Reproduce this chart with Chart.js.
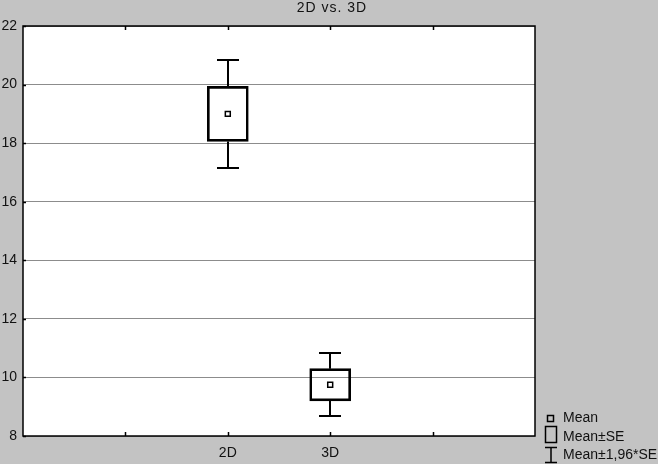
<!DOCTYPE html>
<html>
<head>
<meta charset="utf-8">
<script src="https://cdn.jsdelivr.net/npm/chart.js@4.4.0/dist/chart.umd.min.js"></script>
<style>
  html, body { margin: 0; padding: 0; background: #c3c3c3; }
  #wrap { width: 658px; height: 464px; }
</style>
</head>
<body>
<div id="wrap"><canvas id="boxChart" width="658" height="464"></canvas></div>
<script>
const categories = ["2D", "3D"];
const positions = [2, 3];
const means = [19.0, 9.75];
const se = [0.94, 0.55];
const ci = [1.84, 1.08]; // 1,96*SE
const xTicks = [1, 2, 3, 4];
const yTicks = [8, 10, 12, 14, 16, 18, 20, 22];
const titleText = "2D vs. 3D";

const fontFamily = "Arial, 'Liberation Sans', sans-serif";

// white plot area, whiskers, frame, inner tick marks, title, legend
const extras = {
  id: "extras",
  beforeDraw(chart) {
    const { ctx, chartArea: a } = chart;
    ctx.save();
    ctx.fillStyle = "#fff";
    ctx.fillRect(a.left, a.top, a.right - a.left, a.bottom - a.top);
    ctx.restore();
  },
  afterDatasetsDraw(chart) {
    const { ctx, scales: { x, y } } = chart;
    ctx.save();
    ctx.strokeStyle = "#000";
    ctx.lineWidth = 2;
    positions.forEach((p, i) => {
      const px = Math.round(x.getPixelForValue(p));
      const ends = [
        [means[i] + se[i], means[i] + ci[i]],
        [means[i] - se[i], means[i] - ci[i]],
      ];
      ends.forEach(([a, b]) => {
        const ya = y.getPixelForValue(a);
        const yb = Math.round(y.getPixelForValue(b));
        ctx.beginPath();
        ctx.moveTo(px, ya);
        ctx.lineTo(px, yb);
        ctx.moveTo(px - 11, yb);
        ctx.lineTo(px + 11, yb);
        ctx.stroke();
      });
    });
    ctx.restore();
  },
  afterDraw(chart) {
    const { ctx, chartArea: a, scales: { x, y } } = chart;
    ctx.save();
    ctx.strokeStyle = "#000";
    ctx.lineWidth = 1.5;
    ctx.strokeRect(a.left, a.top, a.right - a.left, a.bottom - a.top);
    ctx.beginPath();
    xTicks.forEach((t) => {
      const px = Math.round(x.getPixelForValue(t)) + 0.5;
      ctx.moveTo(px, a.bottom);
      ctx.lineTo(px, a.bottom - 4);
      ctx.moveTo(px, a.top);
      ctx.lineTo(px, a.top + 4);
    });
    yTicks.forEach((t) => {
      const py = Math.round(y.getPixelForValue(t)) + 0.5;
      ctx.moveTo(a.left, py);
      ctx.lineTo(a.left + 3, py);
    });
    ctx.stroke();

    // title, centred on the whole picture
    ctx.fillStyle = "#111";
    ctx.textBaseline = "middle";
    ctx.textAlign = "center";
    ctx.font = "14px " + fontFamily;
    ctx.letterSpacing = "1px";
    ctx.fillText(titleText, chart.width / 2 + 3, 8);
    ctx.letterSpacing = "0px";

    // legend
    ctx.textAlign = "left";
    ctx.lineWidth = 1.5;
    ctx.strokeRect(547.5, 415.5, 6, 6);
    ctx.fillText("Mean", 563, 418);
    ctx.strokeRect(545.5, 426.5, 11, 16);
    ctx.fillText("Mean\u00b1SE", 563, 437);
    ctx.beginPath();
    ctx.moveTo(551, 447);
    ctx.lineTo(551, 463);
    ctx.moveTo(545, 447.5);
    ctx.lineTo(557, 447.5);
    ctx.moveTo(545, 462.5);
    ctx.lineTo(557, 462.5);
    ctx.stroke();
    ctx.fillText("Mean\u00b11,96*SE", 563, 455);
    ctx.restore();
  },
};

new Chart(document.getElementById("boxChart"), {
  type: "bar",
  data: {
    datasets: [
      {
        type: "scatter",
        label: "Mean",
        data: positions.map((p, i) => ({ x: p, y: means[i] })),
        pointStyle: "rect",
        pointRadius: 3.5,
        pointBorderWidth: 1.5,
        borderColor: "#000",
        backgroundColor: "#fff",
        order: 0,
      },
      {
        label: "Mean\u00b1SE",
        data: positions.map((p, i) => ({ x: p, y: [means[i] - se[i], means[i] + se[i]] })),
        backgroundColor: "rgba(255,255,255,0)",
        borderColor: "#000",
        borderWidth: 2,
        borderSkipped: false,
        barThickness: 41,
        order: 1,
      },
    ],
  },
  options: {
    responsive: false,
    animation: false,
    layout: { padding: { right: 123, left: 0, top: 26, bottom: 0 } },
    plugins: {
      legend: { display: false },
      tooltip: { enabled: false },
      title: { display: false },
    },
    scales: {
      x: {
        type: "linear",
        min: 0,
        max: 5,
        offset: false,
        afterBuildTicks: (s) => { s.ticks = xTicks.map((v) => ({ value: v })); },
        afterFit: (s) => { s.height = 28; },
        ticks: {
          autoSkip: false,
          maxRotation: 0,
          padding: 9,
          color: "#111",
          font: { family: fontFamily, size: 14 },
          callback: (v) => {
            const i = positions.indexOf(v);
            return i >= 0 ? categories[i] : "";
          },
        },
        grid: { display: false, drawTicks: false, offset: false },
        border: { display: false },
      },
      y: {
        min: 8,
        max: 22,
        afterBuildTicks: (s) => { s.ticks = yTicks.map((v) => ({ value: v })); },
        afterFit: (s) => { s.width = 23; },
        ticks: {
          padding: 6,
          color: "#111",
          font: { family: fontFamily, size: 14 },
        },
        grid: { color: "#8c8c8c", lineWidth: 1, drawTicks: false },
        border: { display: false },
      },
    },
  },
  plugins: [extras],
});
</script>
</body>
</html>
